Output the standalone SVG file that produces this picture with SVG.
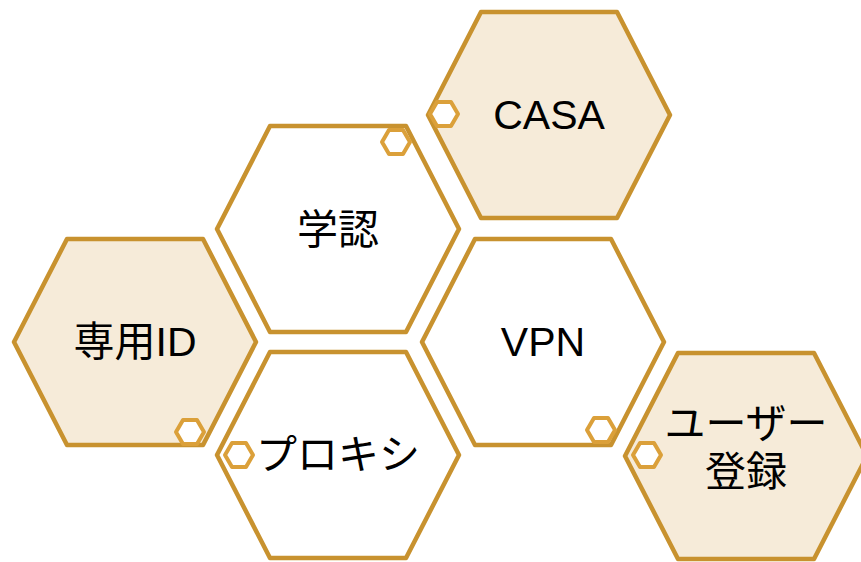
<svg xmlns="http://www.w3.org/2000/svg" xmlns:xlink="http://www.w3.org/1999/xlink" width="861" height="562" viewBox="0 0 861 562">
<style>
.hex{stroke:#C8922F;stroke-width:4.5;stroke-linejoin:round}
.plain{fill:#FFFFFF}
.tint{fill:#F6EBD9}
.mini{fill:#FFFFFF;stroke:#DBA03A;stroke-width:4;stroke-linejoin:round}
.lbl{font-family:"Liberation Sans","Noto Sans CJK JP",sans-serif;font-size:41px;fill:#000000;text-anchor:middle}
</style>
<defs>
<path id="big" d="M-121,0 L-68,-103 L68,-103 L121,0 L68,103 L-68,103 Z"/>
<path id="small" d="M-14,0 L-7,-12 L7,-12 L14,0 L7,12 L-7,12 Z"/>
</defs>
<rect width="861" height="562" fill="#FFFFFF"/>
<g id="casa">
<use xlink:href="#big" href="#big" x="549" y="115" class="hex tint"/>
<use xlink:href="#small" href="#small" x="444" y="114" class="mini"/>
<text class="lbl" x="549" y="129">CASA</text>
</g>
<g id="gakunin">
<use xlink:href="#big" href="#big" x="338" y="229" class="hex plain"/>
<use xlink:href="#small" href="#small" x="396" y="142" class="mini"/>
<text class="lbl" x="338" y="244">学認</text>
</g>
<g id="senyo-id">
<use xlink:href="#big" href="#big" x="135" y="342" class="hex tint"/>
<use xlink:href="#small" href="#small" x="190" y="432" class="mini"/>
<text class="lbl" x="135" y="356">専用ID</text>
</g>
<g id="vpn">
<use xlink:href="#big" href="#big" x="543" y="342" class="hex plain"/>
<use xlink:href="#small" href="#small" x="601" y="430" class="mini"/>
<text class="lbl" x="543" y="356">VPN</text>
</g>
<g id="proxy">
<use xlink:href="#big" href="#big" x="338" y="455" class="hex plain"/>
<use xlink:href="#small" href="#small" x="239" y="455" class="mini"/>
<text class="lbl" x="338" y="469">プロキシ</text>
</g>
<g id="user-registration">
<use xlink:href="#big" href="#big" x="746" y="456" class="hex tint"/>
<use xlink:href="#small" href="#small" x="647" y="455" class="mini"/>
<text class="lbl" x="746" y="438">ユーザー</text>
<text class="lbl" x="746" y="486">登録</text>
</g>
</svg>
